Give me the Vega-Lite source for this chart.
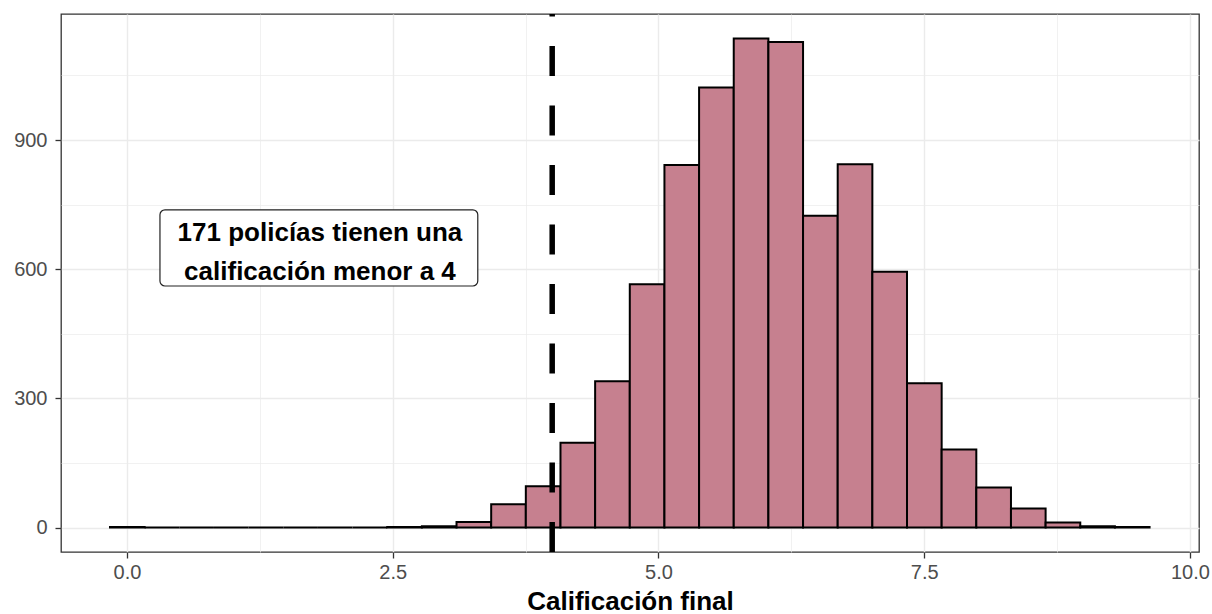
{
  "$schema": "https://vega.github.io/schema/vega-lite/v6.json",
  "width": 1138,
  "height": 538,
  "autosize": {"type": "none"},
  "padding": {"left": 61, "top": 14, "right": 13, "bottom": 62},
  "background": "white",
  "config": {
    "view": {"stroke": "#333333", "strokeWidth": 1.3},
    "font": "Liberation Sans"
  },
  "datasets": {
    "bins": [
      {"start": -0.160, "end": 0.166, "count": 1},
      {"start": 0.166, "end": 0.492, "count": 0},
      {"start": 0.492, "end": 0.818, "count": 0},
      {"start": 0.818, "end": 1.144, "count": 0},
      {"start": 1.144, "end": 1.470, "count": 0},
      {"start": 1.470, "end": 1.796, "count": 0},
      {"start": 1.796, "end": 2.122, "count": 0},
      {"start": 2.122, "end": 2.448, "count": 0},
      {"start": 2.448, "end": 2.774, "count": 1},
      {"start": 2.774, "end": 3.100, "count": 3},
      {"start": 3.100, "end": 3.426, "count": 13},
      {"start": 3.426, "end": 3.752, "count": 54},
      {"start": 3.752, "end": 4.078, "count": 96},
      {"start": 4.078, "end": 4.404, "count": 197},
      {"start": 4.404, "end": 4.730, "count": 340},
      {"start": 4.730, "end": 5.056, "count": 565},
      {"start": 5.056, "end": 5.382, "count": 842},
      {"start": 5.382, "end": 5.708, "count": 1022},
      {"start": 5.708, "end": 6.034, "count": 1136},
      {"start": 6.034, "end": 6.360, "count": 1128},
      {"start": 6.360, "end": 6.686, "count": 724},
      {"start": 6.686, "end": 7.012, "count": 844},
      {"start": 7.012, "end": 7.338, "count": 594},
      {"start": 7.338, "end": 7.664, "count": 335},
      {"start": 7.664, "end": 7.990, "count": 181},
      {"start": 7.990, "end": 8.316, "count": 93},
      {"start": 8.316, "end": 8.642, "count": 44},
      {"start": 8.642, "end": 8.968, "count": 12},
      {"start": 8.968, "end": 9.294, "count": 3},
      {"start": 9.294, "end": 9.620, "count": 1}
    ],
    "cutoff": [{"x": 4, "ylo": -56.8, "yhi": 1192.8}],
    "box": [{"x1": 0.31, "x2": 3.30, "y1": 561, "y2": 738}],
    "notes": [
      {"x": 1.815, "y": 684, "text": "171 policías tienen una"},
      {"x": 1.815, "y": 593, "text": "calificación menor a 4"}
    ]
  },
  "layer": [
    {
      "data": {"name": "bins"},
      "mark": {"type": "bar", "fill": "#C6808F", "stroke": "black", "strokeWidth": 2, "clip": true},
      "encoding": {
        "x": {
          "field": "start",
          "type": "quantitative",
          "scale": {"domain": [-0.621, 10.085], "nice": false, "zero": false},
          "axis": {
            "title": "Calificación final",
            "titleFontSize": 26,
            "titleFontWeight": "bold",
            "titleColor": "black",
            "titlePadding": 6,
            "values": [0, 1.25, 2.5, 3.75, 5, 6.25, 7.5, 8.75, 10],
            "labelExpr": "datum.value % 2.5 === 0 ? format(datum.value, '.1f') : ''",
            "labelFontSize": 20,
            "labelColor": "#4D4D4D",
            "labelPadding": 4,
            "labelOverlap": false,
            "labelFlush": false,
            "labelBound": false,
            "tickColor": "#333333",
            "tickSize": 6,
            "tickWidth": 1.3,
            "tickOpacity": {"condition": {"test": "datum.value % 2.5 !== 0", "value": 0}, "value": 1},
            "domain": false,
            "grid": true,
            "gridColor": "#EBEBEB",
            "gridWidth": {"condition": {"test": "datum.value % 2.5 !== 0", "value": 0.7}, "value": 1.4}
          }
        },
        "x2": {"field": "end"},
        "y": {
          "field": "count",
          "type": "quantitative",
          "scale": {"domain": [-56.8, 1192.8], "nice": false, "zero": false},
          "axis": {
            "title": null,
            "values": [0, 150, 300, 450, 600, 750, 900, 1050],
            "labelExpr": "datum.value % 300 === 0 ? datum.label : ''",
            "labelFontSize": 20,
            "labelColor": "#4D4D4D",
            "labelPadding": 8,
            "labelOverlap": false,
            "labelFlush": false,
            "labelBound": false,
            "tickColor": "#333333",
            "tickSize": 6,
            "tickWidth": 1.3,
            "tickOpacity": {"condition": {"test": "datum.value % 300 !== 0", "value": 0}, "value": 1},
            "domain": false,
            "grid": true,
            "gridColor": "#EBEBEB",
            "gridWidth": {"condition": {"test": "datum.value % 300 !== 0", "value": 0.7}, "value": 1.4}
          }
        },
        "y2": {"datum": 0}
      }
    },
    {
      "data": {"name": "cutoff"},
      "mark": {"type": "rule", "color": "black", "strokeWidth": 5.5, "strokeDash": [30, 29.5], "strokeDashOffset": 0},
      "encoding": {
        "x": {"field": "x", "type": "quantitative"},
        "y": {"field": "ylo", "type": "quantitative"},
        "y2": {"field": "yhi"}
      }
    },
    {
      "data": {"name": "box"},
      "mark": {"type": "rect", "fill": "white", "stroke": "#222222", "strokeWidth": 1.2, "cornerRadius": 5},
      "encoding": {
        "x": {"field": "x1", "type": "quantitative"},
        "x2": {"field": "x2"},
        "y": {"field": "y1", "type": "quantitative"},
        "y2": {"field": "y2"}
      }
    },
    {
      "data": {"name": "notes"},
      "mark": {"type": "text", "fontSize": 26, "fontWeight": "bold", "color": "black", "align": "center", "baseline": "middle"},
      "encoding": {
        "x": {"field": "x", "type": "quantitative"},
        "y": {"field": "y", "type": "quantitative"},
        "text": {"field": "text"}
      }
    }
  ]
}
